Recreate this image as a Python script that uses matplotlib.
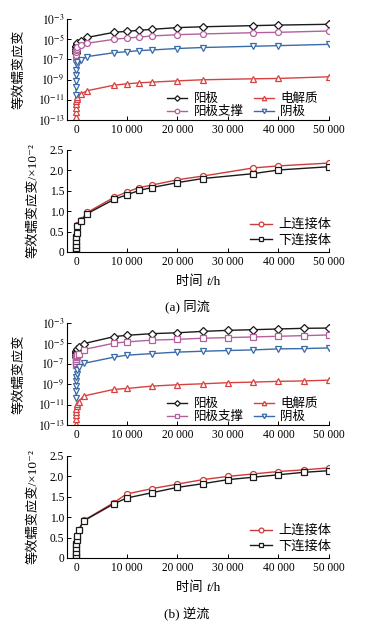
import math
import matplotlib
matplotlib.use("Agg")
import matplotlib.pyplot as plt
from matplotlib.ticker import FuncFormatter, FixedLocator
from matplotlib.offsetbox import TextArea, HPacker, AnchoredOffsetbox

FAMILY = ['Liberation Serif', 'Noto Sans CJK SC', 'DejaVu Serif']
plt.rcParams['font.family'] = FAMILY
plt.rcParams['mathtext.fontset'] = 'stix'
plt.rcParams['axes.unicode_minus'] = True

# ---------------- data ----------------
time_a = [1, 5, 10, 20, 50, 100, 200, 1000, 2200, 7500, 10000, 12500, 15000,
          20000, 25000, 35000, 40000, 50000]
anode_a = [4e-7, 7e-7, 1.1e-6, 1.6e-6, 2.3e-6, 3.2e-6, 4.2e-6, 6e-6, 1.5e-5, 4.8e-5,
           6e-5, 7.6e-5, 9.5e-5, 1.4e-4, 1.7e-4, 2.2e-4, 2.5e-4, 3e-4]
support_a = [9e-8, 1.8e-7, 3e-7, 5e-7, 8e-7, 1.2e-6, 1.7e-6, 2.7e-6, 4e-6, 9.7e-6,
             1.3e-5, 1.6e-5, 2.1e-5, 2.8e-5, 3.3e-5, 4.4e-5, 4.8e-5, 6.5e-5]
cathode_a = [3e-11, 2e-10, 8e-10, 3e-9, 1e-8, 3e-8, 6e-8, 9e-8, 1.9e-7, 4.6e-7,
             5.8e-7, 7.4e-7, 8.6e-7, 1.2e-6, 1.5e-6, 2e-6, 2.3e-6, 3.1e-6]
electrolyte_a = [2e-13, 6e-13, 1.5e-12, 3.5e-12, 7e-12, 1.2e-11, 2e-11, 4e-11, 8e-11,
                 2.8e-10, 3.8e-10, 4.8e-10, 5.6e-10, 7.5e-10, 9.6e-10, 1.2e-9, 1.3e-9, 1.9e-9]
upper_a = [0.03, 0.12, 0.2, 0.3, 0.4, 0.5, 0.65, 0.79, 0.97, 1.34, 1.47, 1.58, 1.64,
           1.77, 1.86, 2.06, 2.11, 2.18]
lower_a = [0.02, 0.1, 0.18, 0.27, 0.36, 0.46, 0.63, 0.77, 0.94, 1.29, 1.40, 1.51, 1.58,
           1.70, 1.80, 1.92, 2.01, 2.09]

time_b = [1, 5, 10, 20, 50, 100, 200, 500, 1500, 7500, 10000, 15000, 20000, 25000,
          30000, 35000, 40000, 45000, 50000]
anode_b = [5e-7, 8e-7, 1.2e-6, 1.6e-6, 2e-6, 2.5e-6, 3e-6, 4e-6, 9.5e-6, 4.6e-5, 6.2e-5,
           9e-5, 1.1e-4, 1.5e-4, 1.9e-4, 2.2e-4, 2.6e-4, 3e-4, 3.2e-4]
support_b = [7e-8, 1.3e-7, 2e-7, 3e-7, 4.5e-7, 6e-7, 7.5e-7, 1e-6, 2.5e-6, 1.05e-5,
             1.4e-5, 2.1e-5, 2.5e-5, 3.2e-5, 3.7e-5, 4.3e-5, 5e-5, 5.8e-5, 6.7e-5]
cathode_b = [4e-11, 2e-10, 7e-10, 2e-9, 5e-9, 1e-8, 2.5e-8, 5e-8, 1.1e-7, 4.5e-7, 7e-7,
             1e-6, 1.4e-6, 1.7e-6, 2e-6, 2.3e-6, 2.9e-6, 3.1e-6, 3.6e-6]
electrolyte_b = [1.4e-13, 4e-13, 1e-12, 2e-12, 4e-12, 7e-12, 1.2e-11, 2e-11, 7e-11,
                 3.1e-10, 3.8e-10, 6.5e-10, 8.8e-10, 1.1e-9, 1.4e-9, 1.6e-9, 1.9e-9, 2.1e-9, 2.5e-9]
upper_b = [0.03, 0.1, 0.18, 0.27, 0.36, 0.45, 0.55, 0.69, 0.92, 1.36, 1.57, 1.70, 1.81,
           1.92, 2.0, 2.06, 2.12, 2.16, 2.21]
lower_b = [0.02, 0.08, 0.15, 0.25, 0.35, 0.45, 0.55, 0.68, 0.91, 1.33, 1.47, 1.60, 1.73,
           1.82, 1.92, 1.98, 2.04, 2.10, 2.14]

x_ticks = [0, 10000, 20000, 30000, 40000, 50000]
log_ticks = [1e-3, 1e-5, 1e-7, 1e-9, 1e-11, 1e-13]
lin_ticks = [0, 0.5, 1.0, 1.5, 2.0, 2.5]

names_log = ['阳极', '阳极支撑', '电解质', '阴极']
names_lin = ['上连接体', '下连接体']
ylabel_log = '等效蠕变应变'
ylabel_lin = '等效蠕变应变/×10⁻²'
caption_a = '(a) 同流'
caption_b = '(b) 逆流'

# ---------------- style ----------------
C_ANODE = '#1a1a1a'
C_SUPPORT = '#b4609c'
C_ELEC = '#d8413f'
C_CATH = '#3a6aa8'
C_UP = '#cc3b3b'
C_LOW = '#1a1a1a'
FS = 8.3
LFS = 9.5
MS = 4.3
LW = 1.0

fig = plt.figure(figsize=(3.66, 6.29), dpi=100)
L, W = 67 / 366, (329 - 67) / 366


def ax_at(top_px, bot_px):
    return fig.add_axes([L, 1 - bot_px / 629, W, (bot_px - top_px) / 629])


def xfmt(v, p):
    v = int(round(v))
    if v == 0:
        return '0'
    return f'{v:,}'.replace(',', ' ')


def style(ax):
    ax.spines['top'].set_visible(False)
    ax.spines['right'].set_visible(False)
    for s in ('left', 'bottom'):
        ax.spines[s].set_linewidth(0.8)
    ax.tick_params(direction='in', length=3, width=0.7, labelsize=FS, pad=2)
    ax.set_xlim(-1800, 50000)
    ax.xaxis.set_major_locator(FixedLocator(x_ticks))
    ax.xaxis.set_major_formatter(FuncFormatter(xfmt))
    ax.tick_params(axis='x', pad=3)


def log_panel(ax, t, anode, support, elec, cath, support_marker):
    kw = dict(lw=LW, ms=MS, mfc='white', mew=0.9)
    ax.plot(t, anode, marker='D', color=C_ANODE, label=names_log[0], ms=MS - 0.5, lw=LW, mfc='white', mew=0.9)
    ax.plot(t, support, marker=support_marker, color=C_SUPPORT, label=names_log[1], **kw)
    ax.plot(t, elec, marker='^', color=C_ELEC, label=names_log[2], **kw)
    ax.plot(t, cath, marker='v', color=C_CATH, label=names_log[3], **kw)
    ax.set_yscale('log')
    ax.set_ylim(1e-13, 1e-3)
    ax.yaxis.set_major_locator(FixedLocator(log_ticks))
    ax.yaxis.set_minor_locator(FixedLocator([]))
    ax.yaxis.set_major_formatter(FuncFormatter(lambda v, p: r'$10^{%d}$' % round(math.log10(v))))
    style(ax)
    ax.set_ylabel(ylabel_log, fontsize=LFS)
    ax.yaxis.set_label_coords(-0.16, 0.5)
    ax.legend(ncol=2, loc='lower right', bbox_to_anchor=(0.975, -0.03), frameon=False,
              fontsize=9, handlelength=1.6, handletextpad=0.5, columnspacing=0.8,
              labelspacing=0.05, borderaxespad=0.0, markerscale=0.75)


def xlabel(ax, y_px):
    parts = [TextArea('时间 ', textprops=dict(fontsize=LFS)),
             TextArea('t', textprops=dict(fontsize=LFS, style='italic')),
             TextArea('/h', textprops=dict(fontsize=LFS))]
    box = HPacker(children=parts, align='baseline', pad=0, sep=0)
    ab = AnchoredOffsetbox(loc='center', child=box, pad=0, borderpad=0, frameon=False,
                           bbox_to_anchor=(198 / 366, 1 - y_px / 629),
                           bbox_transform=fig.transFigure)
    fig.add_artist(ab)


def lin_panel(ax, t, up, low, xlab_y):
    kw = dict(lw=LW, ms=MS, mfc='white', mew=0.9)
    ax.plot(t, up, marker='o', color=C_UP, label=names_lin[0], **kw)
    ax.plot(t, low, marker='s', color=C_LOW, label=names_lin[1], **kw)
    ax.set_ylim(0, 2.5)
    ax.yaxis.set_major_locator(FixedLocator(lin_ticks))
    ax.yaxis.set_major_formatter(FuncFormatter(lambda v, p: '0' if v == 0 else f'{v:.1f}'))
    style(ax)
    ax.set_ylabel(ylabel_lin, fontsize=LFS)
    ax.yaxis.set_label_coords(-0.105, 0.5)
    xlabel(ax, xlab_y)
    ax.legend(loc='lower right', bbox_to_anchor=(1.03, 0.0), frameon=False,
              fontsize=LFS, handlelength=1.7, handletextpad=0.5,
              labelspacing=0.25, borderaxespad=0.0, markerscale=0.8)


ax1 = ax_at(19, 120)
log_panel(ax1, time_a, anode_a, support_a, electrolyte_a, cathode_a, 'o')
ax2 = ax_at(150, 252)
lin_panel(ax2, time_a, upper_a, lower_a, 282)
fig.text(187 / 366, 1 - 306 / 629, caption_a, ha='center', va='center', fontsize=LFS)

ax3 = ax_at(323, 425)
log_panel(ax3, time_b, anode_b, support_b, electrolyte_b, cathode_b, 's')
ax4 = ax_at(456, 558)
lin_panel(ax4, time_b, upper_b, lower_b, 588)
fig.text(187 / 366, 1 - 613 / 629, caption_b, ha='center', va='center', fontsize=LFS)

fig.savefig('out.png', dpi=100)
